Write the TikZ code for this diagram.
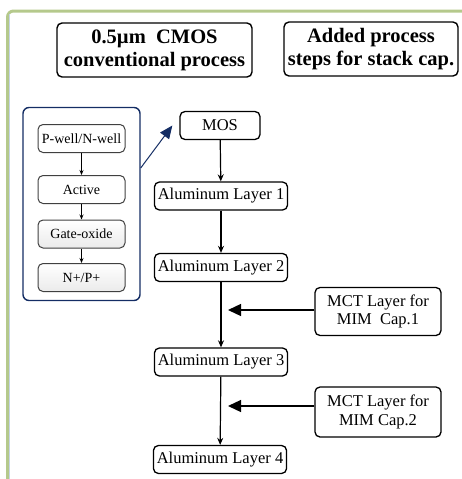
\documentclass[tikz,border=0pt]{standalone}
\usepackage{fontspec}
\setmainfont{Liberation Serif}
\usetikzlibrary{arrows.meta}
\definecolor{framegreen}{RGB}{181,201,140}
\definecolor{framblue}{RGB}{198,211,230}
\definecolor{groupnavy}{RGB}{20,45,100}
\tikzset{titlebox/.style={draw, line width=1.4pt, rounded corners=5pt, align=center,
		font=\fontsize{20.5}{23}\selectfont\bfseries, inner sep=2pt},
	stepbox/.style={draw, line width=1.3pt, rounded corners=5pt, align=center,
		font=\fontsize{16.5}{18.5}\selectfont},
	smallbox/.style={draw=black!75, line width=1pt, rounded corners=5pt, align=center,
		font=\fontsize{14}{16}\selectfont, minimum width=87, minimum height=28},
	groupbox/.style={draw=groupnavy, line width=1.4pt, rounded corners=6pt}}

\begin{document}
\begin{tikzpicture}[x=1pt,y=-1pt]
		\useasboundingbox (0,0) rectangle (462,479);
		% outer frame
		\draw[framegreen, line width=3pt, rounded corners=6pt] (7.5,490) -- (7.5,11) -- (475,11);
		\draw[framblue, line width=1pt] (9.8,490) -- (9.8,13.5);
		% headings
		\node[titlebox, minimum width=195, minimum height=54] (conv) at (154.5,50) {0.5\textmu m\ \ CMOS\\conventional process};
		\node[titlebox, minimum width=174, minimum height=54] (added) at (371,49) {Added process\\steps for stack cap.};
		% MOS sub steps
		\node[groupbox, minimum width=117, minimum height=193] (grp) at (81.5,204) {};
		\node[smallbox] (pw) at (81.5,138.5) {P-well/N-well};
		\node[smallbox] (act) at (81.5,189.5) {Active};
		\node[smallbox, top color=white, bottom color=black!8] (gox) at (81.5,234) {Gate-oxide};
		\node[smallbox, top color=white, bottom color=black!8] (np) at (81.5,277.5) {N+/P+};
		\begin{scope}[line width=0.9pt, >={Stealth[length=5pt,width=4pt]}]
			\draw[->] (pw) -- (act);
			\draw[->] (act) -- (gox);
			\draw[->] (gox) -- (np);
		\end{scope}
		% main flow
		\begin{scope}[every node/.style={stepbox, minimum height=28}]
			\node[minimum width=80] (mos) at (220,125.5) {MOS};
			\node[minimum width=131] (al1) at (221,196) {Aluminum Layer 1};
			\node[minimum width=131] (al2) at (221,267.5) {Aluminum Layer 2};
			\node[minimum width=131] (al3) at (221,362) {Aluminum Layer 3};
			\node[minimum width=131] (al4) at (220,459.5) {Aluminum Layer 4};
			\node[minimum width=126, minimum height=48] (mct1) at (378,311.5) {MCT Layer for\\MIM\ \ Cap.1};
			\node[minimum width=126, minimum height=50] (mct2) at (378,412) {MCT Layer for\\MIM Cap.2};
		\end{scope}
		\begin{scope}[line width=1.2pt, >={Stealth[length=7pt,width=6pt]}]
			\draw[->] (mos) -- (al1);
			\draw[->] (al1) -- (al2);
			\draw[->] (al2) -- (al3);
			\draw[->] (al3) -- (al4);
		\end{scope}
		\coordinate (t1) at (228,310);
		\coordinate (t2) at (228,406);
		\begin{scope}[line width=1.3pt, >={Triangle[length=13pt,width=12pt]}]
			\draw[->] (mct1.west |- t1) -- (t1);
			\draw[->] (mct2.west |- t2) -- (t2);
		\end{scope}
		\draw[groupnavy, line width=1pt, >={Triangle[length=13pt,width=11pt]}, ->] ([yshift=36]grp.east) -- ([xshift=-7]mos.west);
	\end{tikzpicture}
\end{document}
